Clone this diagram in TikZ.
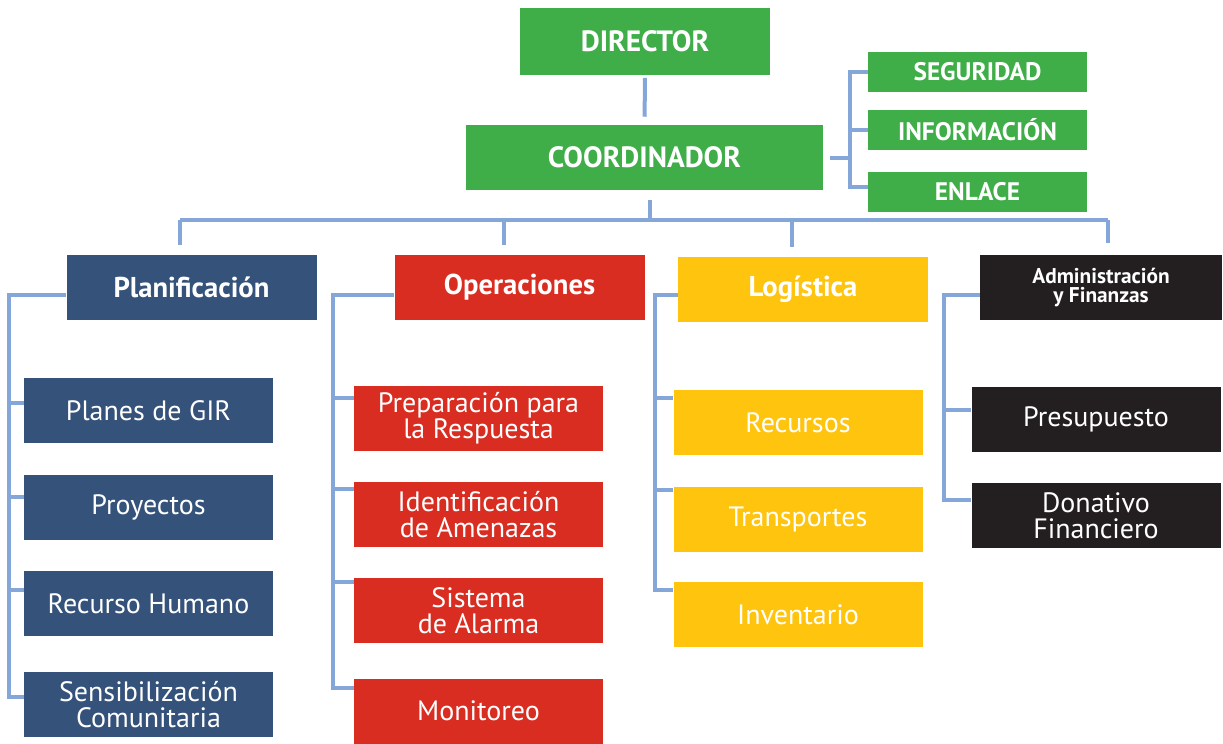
\documentclass[tikz,border=0pt]{standalone}
\usepackage{fontspec}
\setmainfont{PT Sans}
\definecolor{grn}{HTML}{3FAE49}
\definecolor{navy}{HTML}{34527A}
\definecolor{redb}{HTML}{D92D22}
\definecolor{yel}{HTML}{FEC40E}
\definecolor{blk}{HTML}{231F20}
\definecolor{linec}{HTML}{84A6D8}
\tikzset{
  box/.style={rectangle, inner sep=0pt, text=white, align=center},
  topbox/.style={box, fill=grn, font=\bfseries\fontsize{22}{22}\selectfont},
  sidebox/.style={box, fill=grn, minimum width=164.25pt, minimum height=30pt, font=\bfseries\fontsize{19}{19}\selectfont},
  headbox/.style={box, minimum width=187.5pt, minimum height=48.75pt, font=\bfseries\fontsize{21.5}{21.5}\selectfont},
  childbox/.style={box, minimum width=186.75pt, minimum height=48.75pt, font=\fontsize{21}{19.5}\selectfont},
  conn/.style={draw=linec, line width=3pt},
}
\begin{document}
\begin{tikzpicture}[x=0.75pt, y=-0.75pt]
\useasboundingbox (0,0) rectangle (1223,743);
% top
\node[topbox, minimum width=187.5pt, minimum height=50.25pt] (dir) at (645,41.5) {DIRECTOR};
\node[topbox, minimum width=267.75pt, minimum height=48.75pt] (coord) at (644.5,157.5) {COORDINADOR};
\node[sidebox] (seg) at (977.5,72) {SEGURIDAD};
\node[sidebox] (inf) at (977.5,130) {INFORMACIÓN};
\node[sidebox] (enl) at (977.5,191.5) {ENLACE};
% heads
\node[headbox, fill=navy] (plan) at (191.5,287.5) {Planificación};
\node[headbox, fill=redb] (oper) at (519.5,287.5) {Operaciones};
\node[headbox, fill=yel] (logi) at (803,289) {Logística};
\node[headbox, fill=blk, minimum width=181.5pt, font=\bfseries\fontsize{16}{14.5}\selectfont] (adm) at (1101,287.5) {Administración\\y Finanzas};
% planificacion children
\node[childbox, fill=navy] (pl1) at (148.5,410.5) {Planes de GIR};
\node[childbox, fill=navy] (pl2) at (148.5,507.5) {Proyectos};
\node[childbox, fill=navy] (pl3) at (148.5,603.5) {Recurso Humano};
\node[childbox, fill=navy] (pl4) at (148.5,704.5) {Sensibilización\\Comunitaria};
% operaciones children
\node[childbox, fill=redb] (op1) at (478.5,418.5) {Preparación para\\la Respuesta};
\node[childbox, fill=redb] (op2) at (478.5,514.5) {Identificación\\de Amenazas};
\node[childbox, fill=redb] (op3) at (478.5,610.5) {Sistema\\de Alarma};
\node[childbox, fill=redb] (op4) at (478.5,711) {Monitoreo};
% logistica children
\node[childbox, fill=yel] (lg1) at (798,422.5) {Recursos};
\node[childbox, fill=yel] (lg2) at (798,519.5) {Transportes};
\node[childbox, fill=yel] (lg3) at (798,614.5) {Inventario};
% admin children
\node[childbox, fill=blk] (ad1) at (1096,419.5) {Presupuesto};
\node[childbox, fill=blk] (ad2) at (1096,515.5) {Donativo\\Financiero};
% connectors top
\draw[conn, shorten <=2pt, shorten >=6pt] (dir.south) -- (coord.north);
\coordinate (sbx) at (850,0);
\draw[conn, shorten <=5pt] (coord.east) -- (coord.east -| sbx);
\draw[conn] (seg.west) -| ([yshift=3.4pt]sbx |- enl.west) -- ([yshift=3.4pt]enl.west);
\draw[conn] (sbx |- inf.west) -- (inf.west);
% bus
\coordinate (bus) at (650,220);
\coordinate (bl) at (180,220);
\coordinate (b2) at (504,220);
\coordinate (b3) at (792,220);
\coordinate (br) at (1108,220);
\draw[conn, shorten <=7pt] (bus |- coord.south) -- (bus);
\draw[conn] (bl) -- (br);
\draw[conn, shorten >=7pt] (bl) -- (bl |- plan.north);
\draw[conn, shorten >=7pt] (b2) -- (b2 |- oper.north);
\draw[conn, shorten >=7pt] (b3) -- (b3 |- logi.north);
\draw[conn, shorten >=9pt] (br) -- (br |- adm.north);
% planificacion bracket
\draw[conn] ([yshift=-5.6pt]plan.west) -- ++(-57,0) |- ([yshift=5.6pt]pl4.west);
\draw[conn] ([yshift=5.6pt]pl1.west) -- ++(-14,0);
\draw[conn] ([yshift=7.9pt]pl2.west) -- ++(-14,0);
\draw[conn] ([yshift=10pt]pl3.west) -- ++(-14,0);
% operaciones bracket
\draw[conn] ([yshift=-5.6pt]oper.west) -- ++(-61,0) |- ([yshift=17.2pt]op4.west);
\draw[conn] ([yshift=15.4pt]op1.west) -- ++(-21,0);
\draw[conn] ([yshift=19pt]op2.west) -- ++(-21,0);
\draw[conn] ([yshift=21.4pt]op3.west) -- ++(-21,0);
% logistica bracket
\draw[conn] ([yshift=-4.5pt]logi.west) -- ++(-23,0) |- ([yshift=18.4pt]lg3.west);
\draw[conn] ([yshift=18.4pt]lg1.west) -- ++(-19,0);
\draw[conn] ([yshift=22pt]lg2.west) -- ++(-19,0);
% admin bracket
\draw[conn] ([yshift=-5.6pt]adm.west) -- ++(-36,0) |- ([yshift=11.6pt]ad2.west);
\draw[conn] ([yshift=7.1pt]ad1.west) -- ++(-28,0);
\end{tikzpicture}
\end{document}
